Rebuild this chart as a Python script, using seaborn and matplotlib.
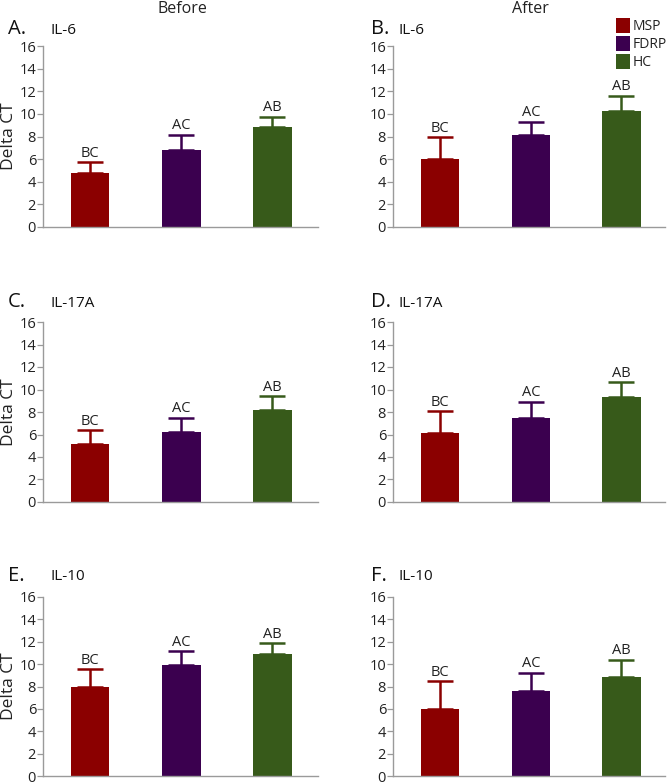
import matplotlib
matplotlib.use("Agg")
import matplotlib.pyplot as plt
from matplotlib.patches import Patch
import pandas as pd
import seaborn as sns

# Group names and colours
groups = ["MSP", "FDRP", "HC"]
colors = ["#8b0000", "#3b004f", "#375a1a"]
letters = ["BC", "AC", "AB"]

# Mean delta CT and upper error (SD)
il6_before = [4.75, 6.8, 8.8]
il6_before_err = [1.0, 1.35, 0.95]
il6_after = [6.0, 8.15, 10.25]
il6_after_err = [1.95, 1.15, 1.35]
il17_before = [5.18, 6.25, 8.18]
il17_before_err = [1.22, 1.24, 1.24]
il17_after = [6.15, 7.48, 9.29]
il17_after_err = [1.92, 1.45, 1.36]
il10_before = [7.96, 9.88, 10.9]
il10_before_err = [1.59, 1.3, 1.0]
il10_after = [6.0, 7.59, 8.83]
il10_after_err = [2.48, 1.65, 1.56]

panels = [
    ("A.", "IL-6", il6_before, il6_before_err),
    ("B.", "IL-6", il6_after, il6_after_err),
    ("C.", "IL-17A", il17_before, il17_before_err),
    ("D.", "IL-17A", il17_after, il17_after_err),
    ("E.", "IL-10", il10_before, il10_before_err),
    ("F.", "IL-10", il10_after, il10_after_err),
]

sns.set_style("white")
plt.rcParams["font.family"] = ["Open Sans", "DejaVu Sans"]

W, H = 669, 784
fig = plt.figure(figsize=(W / 100, H / 100), dpi=100)

# axes boxes in pixels: (left, width, right x-limit) and (y of zero, height)
col_x = [(43, 275, 2.5), (393, 272, 2.48)]
row_y = [(227, 181), (502, 180), (776, 179)]
title_y = [29, 302, 576]
title_x = [(8, 50), (371, 398)]

for i, (tag, name, vals, errs) in enumerate(panels):
    r, c = divmod(i, 2)
    left, width, xmax = col_x[c]
    y0, h = row_y[r]
    ax = fig.add_axes([left / W, 1 - y0 / H, width / W, h / H])

    df = pd.DataFrame({"group": groups, "value": vals})
    sns.barplot(data=df, x="group", y="value", hue="group", palette=colors,
                width=0.42, errorbar=None, legend=False, ax=ax,
                saturation=1, edgecolor="none")

    for j in range(3):
        ax.errorbar(j, vals[j], yerr=[[0], [errs[j]]], fmt="none",
                    ecolor=colors[j], elinewidth=1.8, capsize=9.5,
                    capthick=1.8)
        ax.text(j, vals[j] + errs[j] + 0.12, letters[j], ha="center",
                va="bottom", fontsize=10.5, color="#222222")

    ax.set_ylim(0, 16)
    ax.set_xlim(-0.52, xmax)
    ax.set_yticks(range(0, 17, 2))
    ax.set_xticks([])
    ax.set_xlabel("")
    ax.set_ylabel("Delta CT" if c == 0 else "", fontsize=12.5,
                  color="#222222", labelpad=2)
    for side in ["top", "right"]:
        ax.spines[side].set_visible(False)
    for side in ["left", "bottom"]:
        ax.spines[side].set_color("#9a9a9a")
        ax.spines[side].set_linewidth(1.0)
    ax.tick_params(axis="y", left=True, length=4, width=0.9,
                   color="#9a9a9a", labelsize=10.5, labelcolor="#222222",
                   pad=1)

    tx, nx = title_x[c]
    fig.text(tx / W, 1 - title_y[r] / H, tag, fontsize=14.5, va="center",
             color="#111111")
    fig.text(nx / W, 1 - (title_y[r] + 1) / H, name, fontsize=11,
             va="center", color="#111111")

fig.text(182 / W, 1 - 9 / H, "Before", fontsize=11.5, ha="center",
         va="center", color="#222222")
fig.text(530 / W, 1 - 9 / H, "After", fontsize=11.5, ha="center",
         va="center", color="#222222")

handles = [Patch(facecolor=col, edgecolor="none", label=g)
           for g, col in zip(groups, colors)]
fig.legend(handles=handles, loc="upper left",
           bbox_to_anchor=(616 / W, 1 - 18 / H), frameon=False,
           handlelength=1.0, handleheight=1.25, handletextpad=0.2,
           labelspacing=0.15, borderpad=0, borderaxespad=0, fontsize=10,
           labelcolor="#222222")

fig.savefig("out.png", dpi=100)
